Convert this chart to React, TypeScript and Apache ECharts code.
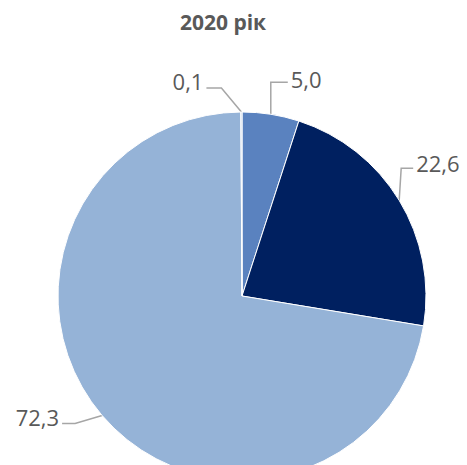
import React, { useEffect, useRef } from "react";
import * as echarts from "echarts";

const TITLE = "2020 рік";
const categories = ["A", "B", "C", "D"];
const values = [5.0, 22.6, 72.3, 0.1];
const colors = ["#5A82BF", "#002060", "#95B3D7", "#AFC3DE"];

// label leader-line shape per slice: elbow offset from arc point, tail length, text vertical shift
const leader = [
  { ex: 0, ey: -32, tail: 17, ty: -3 },
  { ex: 2, ey: -32, tail: 12, ty: -5 },
  { ex: -27, ey: 8, tail: -13, ty: -6 },
  { ex: -20, ey: -24, tail: -15, ty: -7 },
];

export default function App() {
  const ref = useRef<HTMLDivElement>(null);
  useEffect(() => {
    if (!ref.current) return;
    const chart = echarts.init(ref.current, null, { renderer: "svg" });
    chart.setOption({
      animation: false,
      backgroundColor: "#ffffff",
      graphic: [
        {
          type: "text",
          x: 223,
          y: 22,
          style: {
            text: TITLE,
            fill: "#595959",
            font: "bold 21px 'Open Sans', sans-serif",
            textAlign: "center",
            textVerticalAlign: "middle",
          },
        },
      ],
      series: [
        {
          type: "pie",
          center: [242, 296],
          radius: 184,
          startAngle: 90,
          clockwise: true,
          avoidLabelOverlap: false,
          itemStyle: { borderColor: "#ffffff", borderWidth: 1 },
          label: {
            show: true,
            position: "outside",
            color: "#595959",
            fontSize: 22,
            fontFamily: "'Open Sans', sans-serif",
            formatter: (p: any) => Number(p.value).toFixed(1).replace(".", ","),
          },
          labelLine: {
            show: true,
            length: 20,
            length2: 10,
            lineStyle: { color: "#A6A6A6", width: 1.5 },
          },
          labelLayout: (p: any) => {
            const o = leader[p.dataIndex];
            const pts = p.labelLinePoints;
            if (!pts || !o) return {};
            const p0 = [pts[0][0], pts[0][1]];
            const p1 = [p0[0] + o.ex, p0[1] + o.ey];
            const p2 = [p1[0] + o.tail, p1[1]];
            const right = o.tail > 0;
            return {
              x: p2[0] + (right ? 3 : -3),
              y: p2[1] + o.ty,
              align: right ? "left" : "right",
              verticalAlign: "middle",
              labelLinePoints: [p0, p1, p2],
            };
          },
          data: values.map((v, i) => ({
            name: categories[i],
            value: v,
            itemStyle: { color: colors[i] },
          })),
        },
      ],
    });
    return () => chart.dispose();
  }, []);
  return (
    <div
      ref={ref}
      style={{ position: "absolute", left: 0, top: 0, width: 467, height: 465 }}
    />
  );
}
